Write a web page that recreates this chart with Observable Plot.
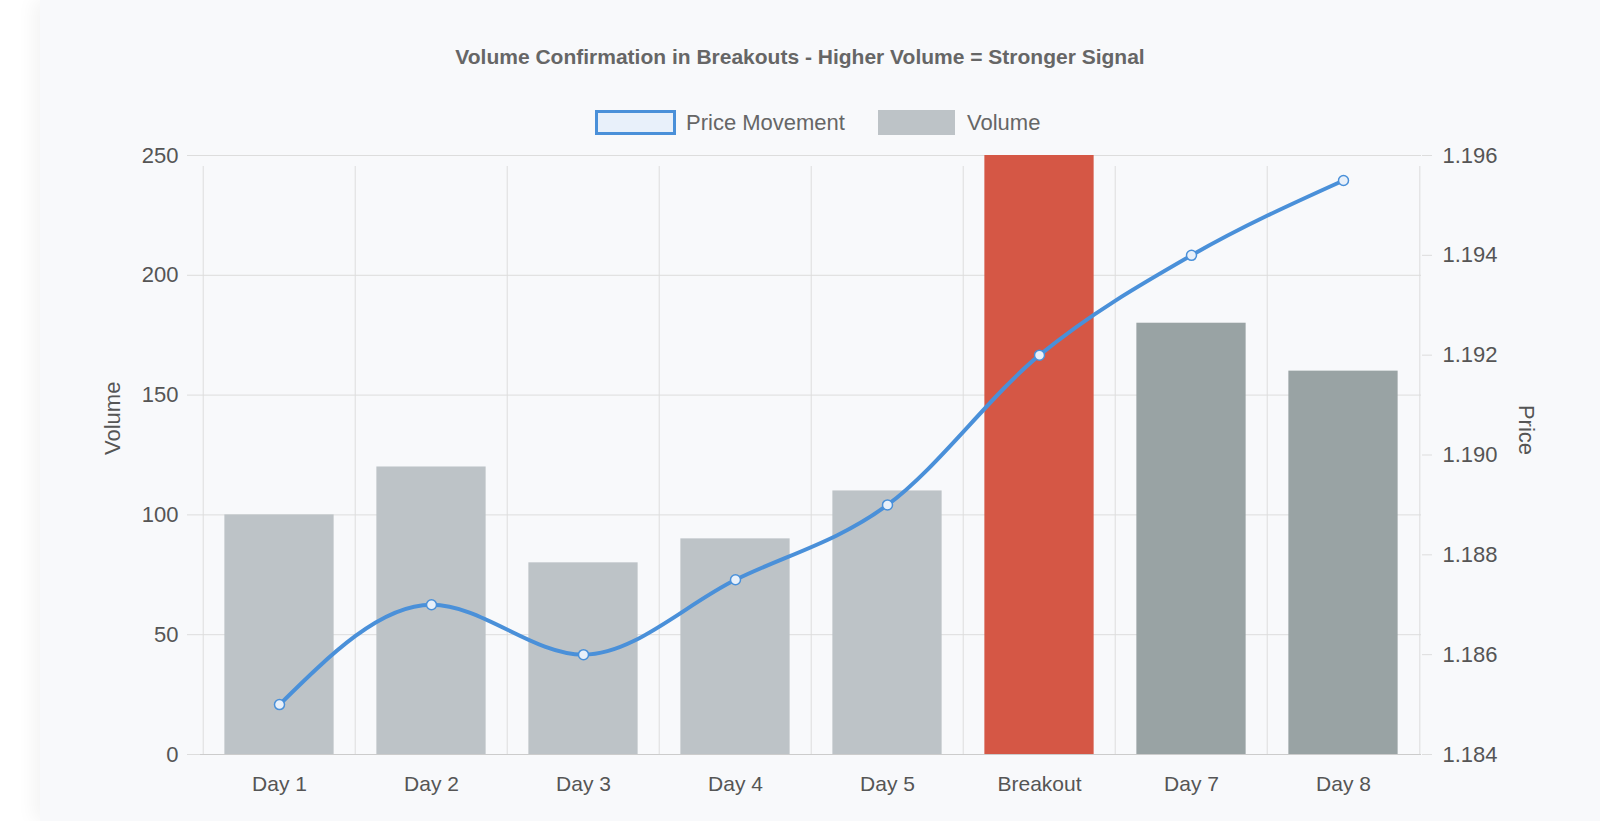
<!DOCTYPE html>
<html><head><meta charset="utf-8">
<script src="https://cdn.jsdelivr.net/npm/d3@7"></script>
<script src="https://cdn.jsdelivr.net/npm/@observablehq/plot@0.6"></script>
<style>
body{margin:0;background:#fff;font-family:"Liberation Sans",Arial,sans-serif;overflow:hidden;}
#card{position:absolute;left:40px;top:0;width:1560px;height:821px;background:#f8f9fb;box-shadow:-6px 0 18px rgba(0,0,0,0.05);}
#title{position:absolute;left:0;width:1600px;top:45px;text-align:center;font-weight:bold;font-size:21px;color:#666;font-family:"Liberation Sans Narrow","Liberation Sans",Arial,sans-serif;}
.lg{position:absolute;font-size:22px;color:#666;line-height:25px;top:110px;}
.sw{position:absolute;height:25px;box-sizing:border-box;top:110px;}
#chart{position:absolute;left:0;top:143px;}
</style></head><body>
<div id="card"></div>
<div id="title">Volume Confirmation in Breakouts - Higher Volume = Stronger Signal</div>
<span class="sw" style="left:595px;width:81px;border:3px solid #4a90d9;background:#e8f0fa"></span>
<span class="lg" style="left:686px">Price Movement</span>
<span class="sw" style="left:878px;width:77px;background:#bdc3c7"></span>
<span class="lg" style="left:967px">Volume</span>
<div id="chart"></div>
<script>
const days=["Day 1","Day 2","Day 3","Day 4","Day 5","Breakout","Day 7","Day 8"];
const volume=[100,120,80,90,110,300,180,160];
const price=[1.185,1.187,1.186,1.1875,1.189,1.192,1.194,1.1955];
const barColors=["#bdc3c7","#bdc3c7","#bdc3c7","#bdc3c7","#bdc3c7","#d55745","#99a3a4","#99a3a4"];
const priceTicks=[1.184,1.186,1.188,1.190,1.192,1.194,1.196];
const pMin=1.184,pMax=1.196,vMax=250;
const toV=p=>(p-pMin)/(pMax-pMin)*vMax;
const fromV=v=>pMin+v/vMax*(pMax-pMin);
const data=days.map((d,i)=>({day:d,vol:volume[i],price:price[i],color:barColors[i]}));
const mL=200,mR=179;
const step=(1600-mL-mR)/8;
const ins=step*0.14;
const plot=Plot.plot({
  width:1600,height:671,marginLeft:mL,marginRight:mR,marginTop:12,marginBottom:60,
  style:{background:"transparent",fontFamily:"Liberation Sans, Arial, sans-serif",fontSize:"22px",color:"#555",maxWidth:"none"},
  x:{domain:days,padding:0,label:null},
  y:{domain:[0,vMax],label:null},
  marks:[
    Plot.ruleY([0,50,100,150,200,250],{stroke:"#ddd",strokeWidth:1,insetLeft:-13}),
    Plot.ruleX(days,{x:d=>d,dx:-step/2,y1:0,y2:vMax,stroke:"#ddd",insetBottom:-11}),
    Plot.ruleX([days[7]],{x:d=>d,dx:step/2,y1:0,y2:vMax,stroke:"#ddd",insetBottom:-11}),
    Plot.barY(data,{x:"day",y:"vol",fill:"color",clip:true,insetLeft:ins,insetRight:ins}),
    Plot.ruleY([0],{stroke:"#ccc"}),
    Plot.axisY([0,50,100,150,200,250],{anchor:"left",tickSize:0,tickPadding:22,fontSize:22,fill:"#555"}),
    Plot.axisY(priceTicks.map(toV),{anchor:"right",tickSize:10,tickPadding:11,stroke:"#ddd",fontSize:22,fill:"#555",tickFormat:v=>fromV(v).toFixed(3)}),
    Plot.axisX({tickSize:0,tickPadding:22,fontSize:21,fill:"#555"}),
    Plot.line(data,{x:"day",y:d=>toV(d.price),stroke:"#4a90d9",strokeWidth:4,curve:"monotone-x"}),
    Plot.dot(data,{x:"day",y:d=>toV(d.price),r:5,stroke:"#4a90d9",strokeWidth:1.5,fill:"#e8f0fa"}),
    Plot.text(["Volume"],{frameAnchor:"left",dx:-88,rotate:-90,fontSize:22,fill:"#555"}),
    Plot.text(["Price"],{frameAnchor:"right",dx:105,rotate:90,fontSize:22,fill:"#555"})
  ]
});
document.getElementById("chart").appendChild(plot);
</script></body></html>
